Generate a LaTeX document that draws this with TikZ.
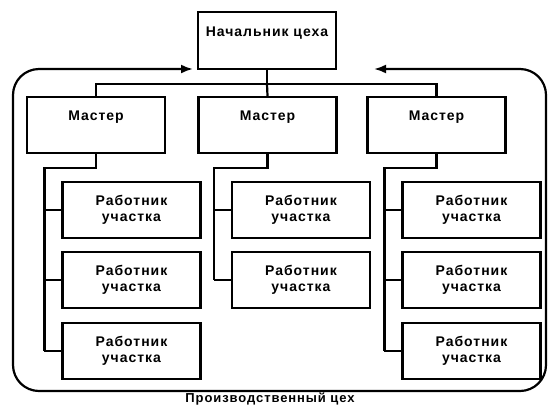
\documentclass[tikz,border=0pt]{standalone}
\usepackage{fontspec}
\setmainfont{Liberation Sans}[LetterSpace=7]
\usetikzlibrary{arrows.meta,calc}

\begin{document}
\begin{tikzpicture}[x=1pt, y=-1pt,
        every node/.style={font=\bfseries\fontsize{14}{16}\selectfont},
        orgbox/.style={draw, line width=2.2pt, inner sep=0pt, minimum width=138pt, minimum height=56pt, align=center},
        topline/.style={text height=10pt, text depth=20pt},
        link/.style={line width=2.2pt}]
        \useasboundingbox (0,0) rectangle (548,405);

        % Head of the shop
        \node[orgbox, topline, minimum height=57pt, text depth=18pt] (chief) at (267,40.5) {Начальник цеха};

        % Foremen
        \node[orgbox, topline] (m1) at (96,125) {Мастер};
        \node[orgbox, topline] (m2) at (267.5,125) {Мастер};
        \node[orgbox, topline] (m3) at (436.5,125) {Мастер};

        % Workers, left column
        \node[orgbox] (w11) at (131.5,210) {Работник\\участка};
        \node[orgbox] (w12) at (131.5,280) {Работник\\участка};
        \node[orgbox] (w13) at (131.5,351) {Работник\\участка};

        % Workers, middle column
        \node[orgbox] (w21) at (301,210) {Работник\\участка};
        \node[orgbox] (w22) at (301,280) {Работник\\участка};

        % Workers, right column
        \node[orgbox] (w31) at (471.5,210) {Работник\\участка};
        \node[orgbox] (w32) at (471.5,280) {Работник\\участка};
        \node[orgbox] (w33) at (471.5,351) {Работник\\участка};

        % Chief to foremen
        \coordinate (bus) at ($(chief.south)+(0,14)$);
        \draw[link] (chief.south) -- (bus);
        \draw[link] (m1.north) |- (bus) -| (m3.north);
        \draw[link] (bus) -- (m2.north);

        % Foremen to workers
        \coordinate (t1) at ($(w13.west)+(-17,0)$);
        \coordinate (t2) at ($(w22.west)+(-17,0)$);
        \coordinate (t3) at ($(w33.west)+(-17,0)$);
        \draw[link] (m1.south) -- ++(0,14) -| (t1);
        \draw[link] (m2.south) -- ++(0,14) -| (t2);
        \draw[link] (m3.south) -- ++(0,14) -| (t3);
        \foreach \w in {w11,w12,w13,w21,w22,w31,w32,w33}
            \draw[link] (\w.west) -- ++(-17,0);

        % Production shop boundary
        \coordinate (inL) at (193,69);
        \coordinate (inR) at (374,69);
        \draw[link, {Latex[length=12pt,width=9pt]}-{Latex[length=12pt,width=9pt]}, rounded corners=26pt]
            (inL) -- (13,69) -- (13,391) -- (546,391) -- (546,69) -- (inR);
        \node[font=\bfseries\fontsize{13}{15}\selectfont] (shop) at (270,399) {Производственный цех};
\end{tikzpicture}
\end{document}
